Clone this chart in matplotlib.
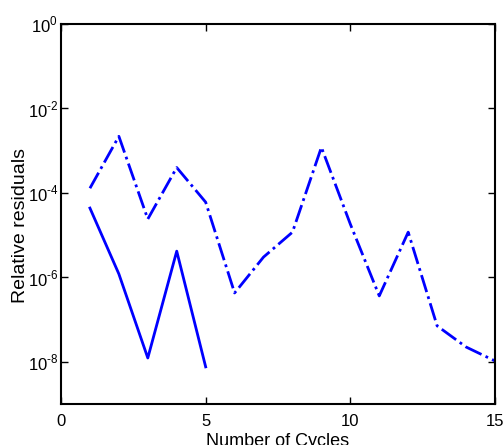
import numpy as np
import matplotlib.pyplot as plt

plt.rcParams['font.family'] = ['Liberation Sans', 'DejaVu Sans']
plt.rcParams['mathtext.fontset'] = 'custom'
plt.rcParams['mathtext.rm'] = 'Liberation Sans'

# data (log10 of residuals)
cycles_a = [1, 2, 3, 4, 5]
log_res_a = [-4.36, -5.92, -7.91, -5.38, -8.12]

cycles_b = [1, 2, 3, 4, 5, 6, 7, 8, 9, 10, 11, 12, 13, 14, 15]
log_res_b = [-3.89, -2.66, -4.62, -3.40, -4.22, -6.37, -5.52, -4.93,
             -2.92, -4.74, -6.44, -4.93, -7.15, -7.65, -7.98]

ytick_exps = ["0", "-2", "-4", "-6", "-8"]

res_a = 10.0 ** np.array(log_res_a)
res_b = 10.0 ** np.array(log_res_b)

fig = plt.figure(figsize=(5.03, 4.45), dpi=100)
ax = fig.add_axes([61 / 503, 1 - 404 / 445, (495 - 61) / 503, (404 - 24) / 445])

ax.semilogy(cycles_a, res_a, color="blue", linestyle="-", linewidth=2)
ax.semilogy(cycles_b, res_b, color="blue", linestyle="-.", linewidth=2)

ax.set_xlim(0, 15)
ax.set_ylim(1e-9, 1e0)
ax.set_xticks([0, 5, 10, 15])
ax.set_yticks([10.0 ** int(e) for e in ytick_exps])
ax.set_yticklabels([r"$10^{\text{%s}}$" % e for e in ytick_exps])
ax.yaxis.set_minor_locator(plt.NullLocator())
ax.tick_params(direction="in", top=True, right=True, length=5, width=1, labelsize=12)
ax.tick_params(axis="x", pad=7)
ax.tick_params(axis="y", pad=2)
for s in ax.spines.values():
    s.set_linewidth(1.5)

ax.set_xlabel("Number of Cycles", fontsize=13)
ax.xaxis.set_label_coords(0.5, -0.075)
ax.set_ylabel("Relative residuals", fontsize=14)
ax.yaxis.set_label_coords(-0.074, 0.471)

plt.savefig("out.png", dpi=100)
